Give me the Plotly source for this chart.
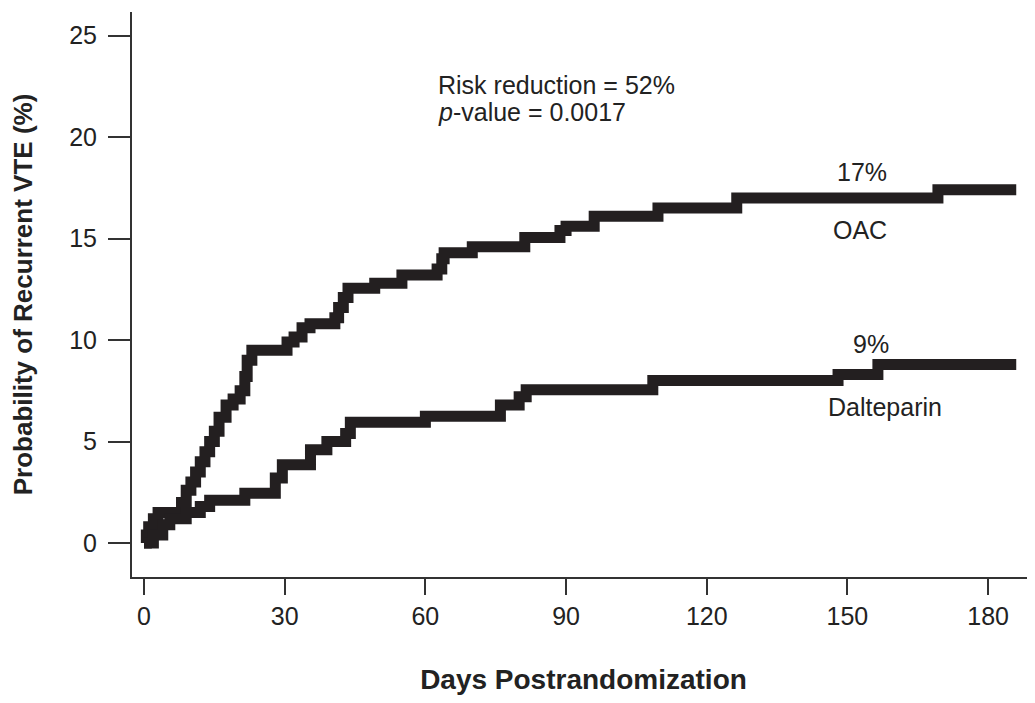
import plotly.graph_objects as go

# Kaplan-Meier style cumulative probability of recurrent VTE (%)
oac_days = [0, 0.5, 1, 2, 3, 8, 9, 10, 11, 12, 13, 14, 15, 16, 17.5, 19, 20.5, 21.5, 22, 23,
            30.5, 32, 33.7, 35.4, 40.7, 41.5, 42.5, 43.5, 49.2, 55, 62.5, 63.5, 64, 70,
            81.2, 88.7, 90, 96, 109.6, 126.4, 169.3, 186]
oac_prob = [0, 0.4, 0.8, 1.2, 1.5, 2.0, 2.6, 3.0, 3.5, 4.0, 4.5, 5.0, 5.5, 6.2, 6.8, 7.1, 7.5, 8.2, 9.0, 9.5,
            9.9, 10.15, 10.6, 10.8, 11.1, 11.6, 12.1, 12.55, 12.8, 13.2, 13.5, 14.0, 14.3, 14.6,
            15.05, 15.4, 15.6, 16.1, 16.5, 17.0, 17.4, 17.4]

dal_days = [0, 2, 4, 5.5, 9, 12, 14, 21.5, 28, 29.5, 35.5, 39, 43, 44, 60, 76, 80, 81.5,
            108.5, 148, 156.5, 186]
dal_prob = [0, 0.4, 0.9, 1.2, 1.5, 1.8, 2.1, 2.45, 3.2, 3.85, 4.6, 5.0, 5.4, 5.95, 6.25, 6.8, 7.2, 7.55,
            8.0, 8.3, 8.8, 8.8]

x_ticks = [0, 30, 60, 90, 120, 150, 180]
y_ticks = [0, 5, 10, 15, 20, 25]

FONT = "Liberation Sans, Arial, Helvetica, sans-serif"
INK = "#231f20"
TXT = "#222222"

fig = go.Figure()
fig.add_trace(go.Scatter(x=oac_days, y=oac_prob, mode="lines", line_shape="hv",
                         line=dict(color=INK, width=11), name="OAC", showlegend=False))
fig.add_trace(go.Scatter(x=dal_days, y=dal_prob, mode="lines", line_shape="hv",
                         line=dict(color=INK, width=11), name="Dalteparin", showlegend=False))

fig.update_layout(
    width=1027, height=695,
    margin=dict(l=124, r=0, t=4, b=126, autoexpand=False),
    paper_bgcolor="white", plot_bgcolor="white",
    font=dict(family=FONT, size=25, color=TXT),
    xaxis=dict(range=[-2.56, 190], tickvals=x_ticks, ticktext=[str(v) for v in x_ticks],
               showgrid=False, zeroline=False, showline=True, linecolor="#333333", linewidth=2,
               ticks="outside", ticklen=16, tickwidth=2, tickcolor="#333333", automargin=False,
               title=dict(text="<b>Days Postrandomization</b>", font=dict(size=28, color=TXT),
                          standoff=40)),
    yaxis=dict(range=[-1.675, 26.16], tickvals=y_ticks, ticktext=[str(v) for v in y_ticks],
               showgrid=False, zeroline=False, showline=True, linecolor="#333333", linewidth=2,
               ticks="outside", ticklen=22, tickwidth=2, tickcolor="#333333", automargin=False,
               ticklabelstandoff=6,
               title=dict(text="<b>Probability of Recurrent VTE (%)</b>", font=dict(size=26, color=TXT),
                          standoff=30)),
)

ann_font = dict(family=FONT, size=25, color=TXT)
fig.add_annotation(x=62.3, y=22.56, text="Risk reduction = 52%", showarrow=False,
                   xanchor="left", yanchor="middle", font=ann_font)
fig.add_annotation(x=62.3, y=21.23, text="<i>p</i>-value = 0.0017", showarrow=False,
                   xanchor="left", yanchor="middle", font=ann_font)
fig.add_annotation(x=153.2, y=18.3, text="17%", showarrow=False, font=ann_font)
fig.add_annotation(x=152.6, y=15.4, text="OAC", showarrow=False, font=ann_font)
fig.add_annotation(x=155, y=9.8, text="9%", showarrow=False, font=ann_font)
fig.add_annotation(x=158, y=6.7, text="Dalteparin", showarrow=False, font=ann_font)

fig.write_html("out.html")
